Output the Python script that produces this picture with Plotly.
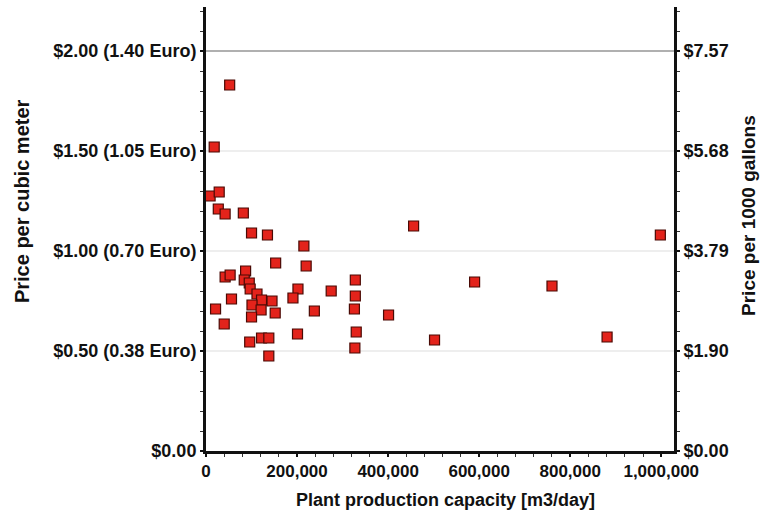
import plotly.graph_objects as go

# Plant production capacity [m3/day]
capacity = [52000, 18000, 9000, 29000, 27000, 42000, 82000,
            100000, 135000, 215000, 153000, 220000, 42000, 53000, 87000,
            84000, 95000, 97000, 202000, 112000, 56000, 122000, 145000,
            191000, 275000, 328000, 328000, 326000, 101000, 121000, 152000,
            238000, 21000, 100000, 40000, 201000, 330000, 96000, 122000,
            138000, 138000, 327000, 456000, 401000, 590000, 502000,
            760000, 881000, 998000]
# Price per cubic meter [$]
price = [1.83, 1.52, 1.275, 1.295, 1.21, 1.185, 1.19,
         1.09, 1.08, 1.025, 0.94, 0.925, 0.87, 0.88, 0.90,
         0.855, 0.84, 0.81, 0.81, 0.785, 0.76, 0.755, 0.75,
         0.765, 0.80, 0.855, 0.775, 0.71, 0.73, 0.705, 0.69,
         0.70, 0.71, 0.67, 0.635, 0.585, 0.595, 0.545, 0.565,
         0.565, 0.475, 0.515, 1.125, 0.68, 0.845, 0.555,
         0.825, 0.57, 1.08]

left_tickvals = [0, 0.5, 1.0, 1.5, 2.0]
left_ticktext = ["$0.00", "$0.50 (0.38 Euro)", "$1.00 (0.70 Euro)",
                 "$1.50 (1.05 Euro)", "$2.00 (1.40 Euro)"]
right_tickvals = [0, 1.90, 3.79, 5.68, 7.57]
right_ticktext = ["$0.00", "$1.90", "$3.79", "$5.68", "$7.57"]
x_tickvals = [0, 200000, 400000, 600000, 800000, 1000000]
x_ticktext = ["0", "200,000", "400,000", "600,000", "800,000", "1,000,000"]
strong_grid_vals = [2.0]

x_title = "Plant production capacity [m3/day]"
y_title = "Price per cubic meter"
y2_title = "Price per 1000 gallons"

GAL = 3.785
YMAX = 2.22
XMAX = 1028000

FAM = "Liberation Sans, Arial, sans-serif"
ytick_font = dict(family=FAM, size=18, color="#111111", weight="bold")
xtick_font = dict(family=FAM, size=17, color="#111111", weight="bold")
ltitle_font = dict(family=FAM, size=20, color="#111111", weight="bold")
rtitle_font = dict(family=FAM, size=19, color="#111111", weight="bold")
htitle_font = dict(family=FAM, size=18, color="#111111", weight="bold")

fig = go.Figure()
fig.add_trace(go.Scatter(x=[], y=[], yaxis="y3", showlegend=False))
fig.add_trace(go.Scatter(x=[], y=[], yaxis="y2", showlegend=False))
fig.add_trace(go.Scatter(
    x=capacity, y=price, mode="markers",
    marker=dict(symbol="square", size=10, color="#e3231b",
                line=dict(color="#4a0a05", width=1.2)),
    showlegend=False, hoverinfo="x+y"))

axis_common = dict(showline=True, linecolor="#111111", linewidth=3,
                   zeroline=False, ticks="outside", ticklen=3, tickwidth=2,
                   tickcolor="#111111")

fig.update_layout(
    width=761, height=519,
    margin=dict(l=206, r=87, t=7, b=68),
    paper_bgcolor="white", plot_bgcolor="white",
    font=xtick_font,
    xaxis=dict(range=[0, XMAX], tickvals=x_tickvals, ticktext=x_ticktext,
               showgrid=False, tickfont=xtick_font,
               minor=dict(dtick=40000, tick0=0, ticks="outside", ticklen=3,
                          tickwidth=1, tickcolor="#333333", showgrid=False),
               **axis_common),
    yaxis=dict(range=[0, YMAX], tickvals=left_tickvals, ticktext=left_ticktext,
               showgrid=True, gridcolor="#eeeeee", gridwidth=2,
               tickfont=ytick_font,
               minor=dict(dtick=0.1, tick0=0, ticks="outside", ticklen=3,
                          tickwidth=1, tickcolor="#333333", showgrid=False),
               **axis_common),
    yaxis3=dict(range=[0, YMAX], overlaying="y", side="left",
                tickvals=strong_grid_vals, showticklabels=False,
                showgrid=True, gridcolor="#b0b0b0", gridwidth=2,
                showline=False, zeroline=False, ticks=""),
    yaxis2=dict(range=[0, YMAX * GAL], overlaying="y", side="right",
                tickvals=right_tickvals, ticktext=right_ticktext,
                showgrid=False, tickfont=ytick_font,
                minor=dict(dtick=0.1 * GAL, tick0=0, ticks="outside", ticklen=3,
                           tickwidth=1, tickcolor="#333333", showgrid=False),
                **axis_common),
    annotations=[
        dict(text=y_title, xref="paper", yref="paper", x=-0.393, y=0.563,
             xanchor="center", yanchor="middle", textangle=-90,
             showarrow=False, font=ltitle_font),
        dict(text=y2_title, xref="paper", yref="paper", x=1.158, y=0.5315,
             xanchor="center", yanchor="middle", textangle=-90,
             showarrow=False, font=rtitle_font),
        dict(text=x_title, xref="paper", yref="paper", x=0.5107, y=-0.1104,
             xanchor="center", yanchor="middle",
             showarrow=False, font=htitle_font),
    ],
)

fig.write_html(
    "out.html",
    config={"displayModeBar": False},
    post_script="document.body.style.margin='0';"
                "document.body.style.overflow='hidden';")
